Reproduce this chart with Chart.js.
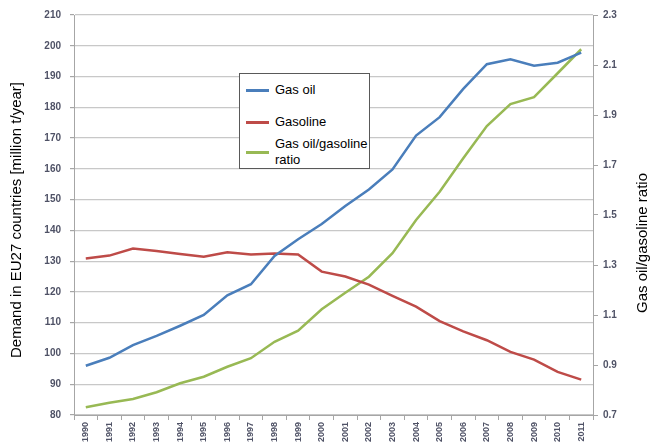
<!DOCTYPE html>
<html>
<head>
<meta charset="utf-8">
<script src="https://cdn.jsdelivr.net/npm/chart.js@4"></script>
<style>
  html, body { margin: 0; padding: 0; background: #fff; }
  #wrap { position: relative; width: 653px; height: 445px; }
  #legend {
    position: absolute; left: 239px; top: 73px; width: 129px; height: 94px;
    border: 1px solid #595959; background: #fff;
    font: 13px "Liberation Sans", Arial, sans-serif; color: #000;
  }
  .item { position: absolute; left: 6px; display: flex; align-items: center; }
  .swatch { width: 23px; height: 3px; margin-right: 6px; flex: none; }
  .txt { line-height: 16px; }
</style>
</head>
<body>
<div id="wrap">
  <canvas id="c" width="653" height="445"></canvas>
  <div id="legend"></div>
</div>
<script>
const years = ['1990','1991','1992','1993','1994','1995','1996','1997','1998','1999','2000',
  '2001','2002','2003','2004','2005','2006','2007','2008','2009','2010','2011'];

// million t/year
const gasOil = [96.0, 98.6, 102.7, 105.7, 109.0, 112.5, 118.9, 122.5, 131.7, 137.1, 142.1,
  147.9, 153.3, 159.8, 170.8, 176.8, 186.0, 194.0, 195.6, 193.5, 194.5, 197.8];
const gasoline = [130.9, 131.8, 134.1, 133.3, 132.3, 131.4, 132.9, 132.2, 132.5, 132.2, 126.6,
  125.0, 122.4, 118.7, 115.2, 110.5, 107.2, 104.3, 100.5, 98.0, 94.0, 91.5];
// ratio, right axis
const ratio = [0.731, 0.749, 0.764, 0.791, 0.827, 0.853, 0.893, 0.927, 0.993, 1.037, 1.123,
  1.189, 1.253, 1.347, 1.480, 1.593, 1.727, 1.856, 1.944, 1.971, 2.067, 2.163];

const leftTitle = 'Demand in EU27 countries [million t/year]';
const rightTitle = 'Gas oil/gasoline ratio';

const tickFont = { family: '"Liberation Sans", Arial, sans-serif', size: 10, weight: 'bold' };
const tickColor = '#4f5266';

const axisTitles = {
  id: 'axisTitles',
  afterDraw(chart) {
    const { ctx, chartArea } = chart;
    ctx.save();
    ctx.font = '15px "Liberation Sans", Arial, sans-serif';
    ctx.fillStyle = '#000';
    ctx.textAlign = 'center';
    ctx.textBaseline = 'middle';
    ctx.translate(17, chartArea.top + 205);
    ctx.rotate(-Math.PI / 2);
    ctx.fillText(leftTitle, 0, 0);
    ctx.restore();

    ctx.save();
    ctx.font = '15px "Liberation Sans", Arial, sans-serif';
    ctx.fillStyle = '#000';
    ctx.textAlign = 'center';
    ctx.textBaseline = 'middle';
    ctx.translate(643, chartArea.top + 228);
    ctx.rotate(-Math.PI / 2);
    ctx.fillText(rightTitle, 0, 0);
    ctx.restore();
  }
};

const chart = new Chart(document.getElementById('c'), {
  type: 'line',
  data: {
    labels: years,
    datasets: [
      { label: 'Gas oil', data: gasOil, borderColor: '#4a7ebb', yAxisID: 'y' },
      { label: 'Gasoline', data: gasoline, borderColor: '#be4b48', yAxisID: 'y' },
      { label: 'Gas oil/gasoline ratio', data: ratio, borderColor: '#98b954', yAxisID: 'y1' }
    ]
  },
  options: {
    responsive: false,
    animation: false,
    layout: { padding: { top: 15, left: 0, right: 0, bottom: 0 } },
    elements: {
      point: { radius: 0 },
      line: { borderWidth: 2.5, tension: 0 }
    },
    plugins: { legend: { display: false }, tooltip: { enabled: false } },
    scales: {
      x: {
        offset: true,
        grid: { offset: true, drawOnChartArea: false, tickLength: 5, color: '#a6a6a6' },
        border: { color: '#a6a6a6' },
        ticks: { font: { ...tickFont, size: 9 }, color: tickColor, minRotation: 90, maxRotation: 90, padding: 2, autoSkip: false },
        afterFit(s) { s.height = 30; }
      },
      y: {
        position: 'left',
        min: 80, max: 210,
        ticks: { stepSize: 10, font: tickFont, color: tickColor, padding: 9 },
        grid: { color: '#c8c8c8', tickColor: '#a6a6a6', tickLength: 4, lineWidth: 1.2 },
        border: { color: '#a6a6a6' },
        afterFit(s) { s.width = 74; }
      },
      y1: {
        position: 'right',
        min: 0.7, max: 2.3,
        ticks: { stepSize: 0.2, font: tickFont, color: tickColor, padding: 5,
          callback: v => v.toFixed(1) },
        grid: { drawOnChartArea: false, tickColor: '#a6a6a6', tickLength: 5 },
        border: { color: '#a6a6a6' },
        afterFit(s) { s.width = 60; }
      }
    }
  },
  plugins: [axisTitles]
});

// legend box built from the datasets
const legend = document.getElementById('legend');
const tops = [8, 40, 62];
chart.data.datasets.forEach((ds, i) => {
  const item = document.createElement('div');
  item.className = 'item';
  item.style.top = tops[i] + 'px';
  const sw = document.createElement('div');
  sw.className = 'swatch';
  sw.style.background = ds.borderColor;
  const t = document.createElement('div');
  t.className = 'txt';
  t.innerHTML = i === 2 ? 'Gas oil/gasoline<br>ratio' : ds.label;
  item.appendChild(sw);
  item.appendChild(t);
  legend.appendChild(item);
});
</script>
</body>
</html>
